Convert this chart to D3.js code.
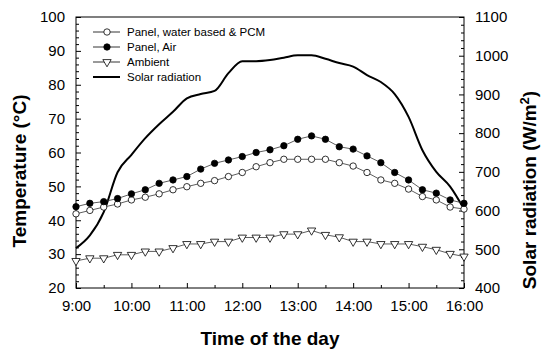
<!DOCTYPE html>
<html lang="en">
<meta charset="utf-8">
<title>Temperature and solar radiation</title>
<head>
<style>
  body { margin: 0; background: #fff; }
  text { font-family: "Liberation Sans", Arial, sans-serif; fill: #000; }
</style>
</head>
<body>
  <script src="https://cdn.jsdelivr.net/npm/d3@7"></script>
  <div id="chart"></div>
  <script>
    // time of the day, every 15 minutes
    var times = ["9:00", "9:15", "9:30", "9:45", "10:00", "10:15", "10:30", "10:45",
      "11:00", "11:15", "11:30", "11:45", "12:00", "12:15", "12:30", "12:45",
      "13:00", "13:15", "13:30", "13:45", "14:00", "14:15", "14:30", "14:45",
      "15:00", "15:15", "15:30", "15:45", "16:00"];
    var panelPCM = [41.9, 42.9, 43.9, 44.8, 46.0, 46.8, 47.8, 49.0, 49.9, 50.9, 51.7, 52.9,
      54.1, 55.8, 57.0, 58.0, 58.0, 58.0, 58.0, 57.0, 56.0, 54.1, 51.9, 50.9, 49.2, 47.0,
      46.0, 43.9, 43.3];
    var panelAir = [44.0, 45.0, 45.5, 46.4, 47.8, 49.0, 50.9, 51.9, 52.9, 55.1, 56.8, 57.8,
      58.8, 60.0, 60.8, 62.0, 63.9, 64.9, 63.9, 61.7, 61.0, 59.0, 57.0, 54.1, 51.9, 49.0,
      48.0, 46.0, 45.0];
    var ambient = [28.0, 28.8, 28.8, 29.8, 29.8, 30.8, 30.8, 31.8, 33.0, 33.0, 33.7, 33.7,
      34.9, 34.9, 34.9, 35.9, 35.9, 37.0, 35.7, 35.0, 33.7, 33.7, 33.0, 33.0, 33.0, 32.2,
      31.3, 30.1, 29.3];
    var solar = [503, 536, 596, 699, 744, 787, 823, 855, 890, 901, 909, 955, 986, 986, 989,
      995, 1001, 1001, 992, 981, 972, 950, 932, 901, 842, 756, 700, 662, 604];
    var xTicks = ["9:00", "10:00", "11:00", "12:00", "13:00", "14:00", "15:00", "16:00"];
    var tempTicks = [20, 30, 40, 50, 60, 70, 80, 90, 100];
    var solarTicks = [400, 500, 600, 700, 800, 900, 1000, 1100];
    var legendNames = ["Panel, water based & PCM", "Panel, Air", "Ambient", "Solar radiation"];

    var W = 542, H = 351;
    var margin = { top: 17, right: 78, bottom: 63, left: 76 };
    var width = W - margin.left - margin.right,
      height = H - margin.top - margin.bottom;

    var svg = d3.select("#chart").append("svg")
      .attr("width", W).attr("height", H);
    var g = svg.append("g")
      .attr("transform", "translate(" + margin.left + "," + margin.top + ")");

    function hours(s) {
      var p = s.split(":");
      return +p[0] + (+p[1]) / 60;
    }

    var x = d3.scaleLinear().domain([9, 16]).range([0, width]);
    var yT = d3.scaleLinear().domain([20, 100]).range([height, 0]);
    var yS = d3.scaleLinear().domain([400, 1100]).range([height, 0]);

    // frame
    g.append("rect").attr("width", width).attr("height", height)
      .attr("fill", "none").attr("stroke", "#000").attr("stroke-width", 1);

    // bottom axis, ticks inside
    g.append("g").attr("transform", "translate(0," + height + ")")
      .call(d3.axisBottom(x).tickValues(xTicks.map(hours)).tickSize(-5).tickPadding(12)
        .tickFormat(function (d) { return xTicks[xTicks.map(hours).indexOf(d)]; }));
    g.append("g").attr("transform", "translate(0," + height + ")")
      .call(d3.axisBottom(x).tickValues(d3.range(9.5, 16, 1)).tickSize(-3).tickFormat(""));

    g.append("g")
      .call(d3.axisLeft(yT).tickValues(tempTicks).tickSize(-5).tickPadding(11));
    g.append("g")
      .call(d3.axisLeft(yT).tickValues(d3.range(22, 100, 2).filter(function (d) { return d % 10; }))
        .tickSize(-3).tickFormat(""));

    g.append("g").attr("transform", "translate(" + width + ",0)")
      .call(d3.axisRight(yS).tickValues(solarTicks).tickSize(-5).tickPadding(11)
        .tickFormat(d3.format("d")));
    g.append("g").attr("transform", "translate(" + width + ",0)")
      .call(d3.axisRight(yS).tickValues(d3.range(420, 1100, 20).filter(function (d) { return d % 100; }))
        .tickSize(-3).tickFormat(""));

    g.selectAll(".domain").remove();
    g.selectAll(".tick line").attr("stroke", "#000");
    g.selectAll(".tick text").style("font-size", "15px")
      .style("font-family", "'Liberation Sans', Arial, sans-serif").attr("fill", "#000");

    // axis titles
    svg.append("text")
      .attr("transform", "translate(26," + 171 + ") rotate(-90)")
      .attr("text-anchor", "middle")
      .style("font-size", "19px").style("font-weight", "bold")
      .text("Temperature (°C)");
    var rt = svg.append("text")
      .attr("transform", "translate(536," + 190 + ") rotate(-90)")
      .attr("text-anchor", "middle")
      .style("font-size", "19px").style("font-weight", "bold");
    rt.append("tspan").text("Solar radiation (W/m");
    rt.append("tspan").attr("dy", -7).style("font-size", "13px").text("2");
    rt.append("tspan").attr("dy", 7).text(")");
    svg.append("text")
      .attr("x", margin.left + width / 2).attr("y", 345)
      .attr("text-anchor", "middle")
      .style("font-size", "19px").style("font-weight", "bold")
      .text("Time of the day");

    // solar radiation line
    g.append("path")
      .datum(times.map(function (t, i) { return [hours(t), solar[i]]; }))
      .attr("fill", "none").attr("stroke", "#000").attr("stroke-width", 2)
      .attr("d", d3.line().curve(d3.curveMonotoneX)
        .x(function (d) { return x(d[0]); })
        .y(function (d) { return yS(d[1]); }));

    var tri = d3.symbol().type(d3.symbolTriangle).size(30);

    var series = [
      { vals: panelPCM, kind: "open" },
      { vals: panelAir, kind: "filled" },
      { vals: ambient, kind: "tri" }
    ];

    series.forEach(function (s) {
      var pts = times.map(function (t, i) { return [hours(t), s.vals[i]]; });
      g.append("path").datum(pts)
        .attr("fill", "none").attr("stroke", "#333").attr("stroke-width", 0.8)
        .attr("d", d3.line()
          .x(function (d) { return x(d[0]); })
          .y(function (d) { return yT(d[1]); }));
      drawMarkers(g, pts.map(function (d) { return [x(d[0]), yT(d[1])]; }), s.kind);
    });

    function drawMarkers(sel, xy, kind) {
      if (kind === "tri") {
        sel.selectAll(null).data(xy).enter().append("path")
          .attr("d", tri)
          .attr("transform", function (d) { return "translate(" + d[0] + "," + d[1] + ") rotate(180)"; })
          .attr("fill", "#fff").attr("stroke", "#000").attr("stroke-width", 0.8);
      } else {
        sel.selectAll(null).data(xy).enter().append("circle")
          .attr("cx", function (d) { return d[0]; })
          .attr("cy", function (d) { return d[1]; })
          .attr("r", 3.2)
          .attr("fill", kind === "filled" ? "#000" : "#fff")
          .attr("stroke", "#000").attr("stroke-width", 0.8);
      }
    }

    // legend
    var kinds = ["open", "filled", "tri", "line"];
    var leg = svg.append("g");
    legendNames.forEach(function (name, i) {
      var ly = 32 + i * 15;
      leg.append("line").attr("x1", 93).attr("x2", 120).attr("y1", ly).attr("y2", ly)
        .attr("stroke", "#000").attr("stroke-width", kinds[i] === "line" ? 2 : 0.8);
      if (kinds[i] !== "line") drawMarkers(leg, [[107, ly]], kinds[i]);
      leg.append("text").attr("x", 127).attr("y", ly + 4)
        .style("font-size", "11.5px").text(name);
    });
  </script>
</body>
</html>
